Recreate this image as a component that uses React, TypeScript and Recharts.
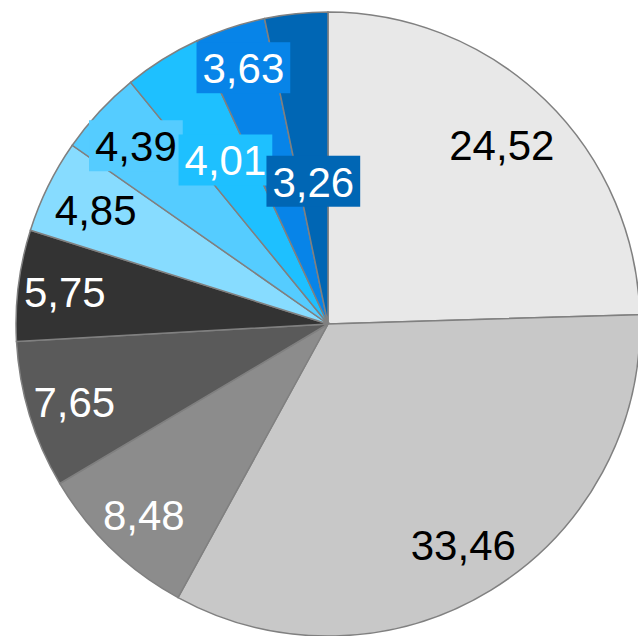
import React from 'react';
import { PieChart, Pie, Cell } from 'recharts';

const labels = ['24,52', '33,46', '8,48', '7,65', '5,75', '4,85', '4,39', '4,01', '3,63', '3,26'];
const values = [24.52, 33.46, 8.48, 7.65, 5.75, 4.85, 4.39, 4.01, 3.63, 3.26];

const colors = ['#e8e8e8', '#c8c8c8', '#8c8c8c', '#5a5a5a', '#333333', '#87dcff', '#55ccff', '#1ec0ff', '#0784e8', '#0066b4'];
const textColors = ['#000', '#000', '#fff', '#fff', '#fff', '#000', '#000', '#fff', '#fff', '#fff'];
// label distance from centre, as a share of the outer radius (small slices are staggered)
const labelRadius = [0.8, 0.83, 0.85, 0.85, 0.85, 0.83, 0.84, 0.62, 0.865, 0.46];
// only the crowded blue labels carry a filled box
const boxed = [false, false, false, false, false, false, true, true, true, true];

const chartData = labels.map((name, i) => ({ name, value: values[i] }));

const RAD = Math.PI / 180;
const FONT = 42;

const SliceLabel = (props: any) => {
  const { cx, cy, midAngle, outerRadius, index } = props;
  const r = outerRadius * labelRadius[index];
  const x = cx + r * Math.cos(-midAngle * RAD);
  const y = cy + r * Math.sin(-midAngle * RAD);
  const text = labels[index];
  const w = FONT * (0.556 * (text.length - 1) + 0.278) + 12;
  const h = 51;
  return (
    <g>
      {boxed[index] && <rect x={x - w / 2} y={y - h / 2} width={w} height={h} fill={colors[index]} />}
      <text
        x={x}
        y={y + 1}
        textAnchor="middle"
        dominantBaseline="central"
        fill={textColors[index]}
        fontSize={FONT}
        fontFamily="'Liberation Sans', Arial, sans-serif"
      >
        {text}
      </text>
    </g>
  );
};

const App: React.FC = () => {
  return (
    <div style={{ position: 'absolute', left: 0, top: 0, width: 638, height: 636, background: '#fff' }}>
      <PieChart width={638} height={636} margin={{ top: 0, right: 0, bottom: 0, left: 0 }}>
        <Pie
          data={chartData}
          dataKey="value"
          cx={328}
          cy={324}
          outerRadius={312}
          startAngle={90}
          endAngle={-270}
          stroke="#808080"
          strokeWidth={1.5}
          labelLine={false}
          label={SliceLabel}
          isAnimationActive={false}
        >
          {chartData.map((d, i) => (
            <Cell key={d.name} fill={colors[i]} />
          ))}
        </Pie>
      </PieChart>
    </div>
  );
};

export default App;
